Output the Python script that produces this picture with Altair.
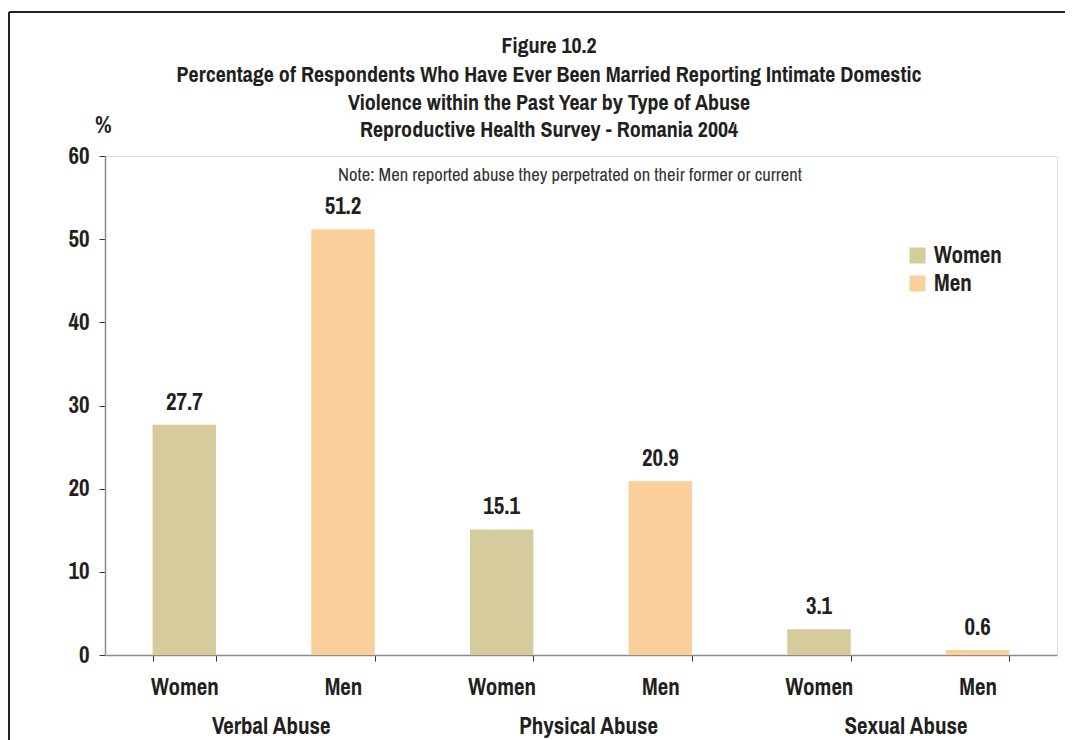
import altair as alt
import pandas as pd

abuse_types = ["Verbal Abuse", "Physical Abuse", "Sexual Abuse"]
sexes = ["Women", "Men"]
women_values = [27.7, 15.1, 3.1]
men_values = [51.2, 20.9, 0.6]
y_ticks = [0, 10, 20, 30, 40, 50, 60]
colors = ["#D6CB9C", "#F9CF9B"]

title_lines = [
    "Figure 10.2",
    "Percentage of Respondents Who Have Ever Been Married Reporting Intimate Domestic",
    "Violence within the Past Year by Type of Abuse",
    "Reproductive Health Survey - Romania 2004",
]
note_text = "Note: Men reported abuse they perpetrated on their former or current"

rows = []
for i, t in enumerate(abuse_types):
    for s, v in zip(sexes, [women_values[i], men_values[i]]):
        rows.append({"cat": f"{t}|{s}", "type": t, "sex": s, "value": v})
df = pd.DataFrame(rows)
cat_order = list(df["cat"])
one = pd.DataFrame({"k": [0]})

FONT = "Archivo Narrow, Roboto Condensed, Barlow Condensed, sans-serif"
INK = "#231f20"
FS = 23
W, H = 952, 499

x_enc = alt.X("cat:N", sort=cat_order, scale=alt.Scale(paddingInner=0.6, paddingOuter=0.3),
              axis=alt.Axis(title=None, labelExpr="split(datum.label, '|')[1]",
                            labelFont=FONT, labelFontSize=FS, labelFontWeight="bold",
                            labelColor=INK, labelPadding=15, labelAngle=0,
                            tickBand="extent", tickSize=6, tickColor="#333333",
                            domainColor="#8c8c8c", domainWidth=1.5, grid=False))

bars = alt.Chart(df).mark_bar().encode(
    x=x_enc,
    y=alt.Y("value:Q", scale=alt.Scale(domain=[0, 60], nice=False),
            axis=alt.Axis(values=y_ticks, title="%", titleAngle=0, titleX=-2, titleY=-31,
                          titleBaseline="middle",
                          titleFont=FONT, titleFontSize=FS, titleFontWeight="bold",
                          titleColor=INK, titleAlign="center",
                          labelFont=FONT, labelFontSize=FS, labelFontWeight="bold",
                          labelColor=INK, labelPadding=10, tickSize=6,
                          tickColor="#333333", domainColor="#8c8c8c", domainWidth=1.5,
                          grid=False)),
    color=alt.Color("sex:N", scale=alt.Scale(domain=sexes, range=colors),
                    legend=alt.Legend(title=None, orient="none", legendX=801, legendY=88,
                                      symbolType="square", symbolSize=256,
                                      symbolStrokeWidth=0, labelFont=FONT,
                                      labelFontSize=FS, labelFontWeight="bold",
                                      labelColor=INK, rowPadding=4, labelOffset=5)),
)

labels = alt.Chart(df).mark_text(font=FONT, fontSize=FS, fontWeight="bold",
                                 color=INK, baseline="bottom", dy=-10).encode(
    x=alt.X("cat:N", sort=cat_order),
    y="value:Q",
    text=alt.Text("value:Q", format=".1f"),
)

group_df = df[df["sex"] == "Men"]
groups = alt.Chart(group_df).mark_text(font=FONT, fontSize=FS, fontWeight="bold",
                                       color=INK, baseline="middle", dx=-40).encode(
    x=alt.X("cat:N", sort=cat_order, bandPosition=0),
    y=alt.value(571),
    text="type:N",
)

layers = [bars, labels, groups]

title_y = [46, 75, 103, 130]
for line, yy in zip(title_lines, title_y):
    layers.append(alt.Chart(one).mark_text(text=line, font=FONT, fontSize=22, fontWeight="bold",
                                           color=INK, baseline="middle").encode(
        x=alt.value(444), y=alt.value(yy - 156)))

layers.append(alt.Chart(one).mark_text(text=note_text, font=FONT, fontSize=18.5,
                                       color="#333333", baseline="middle").encode(
    x=alt.value(465), y=alt.value(19)))

border_left = alt.Chart(one).mark_rule(color="#222222", strokeWidth=2).encode(
    x=alt.value(-96), y=alt.value(-144), y2=alt.value(620))
border_top = alt.Chart(one).mark_rule(color="#222222", strokeWidth=2).encode(
    x=alt.value(-96), x2=alt.value(970), y=alt.value(-144))
layers += [border_left, border_top]

chart = alt.layer(*layers).properties(
    width=W, height=H,
    autosize=alt.AutoSizeParams(type="none"),
    padding={"left": 97, "top": 148, "right": 8, "bottom": 95},
).configure_view(stroke=None).configure(background="white")

chart.save("out.html", embed_options={"renderer": "svg", "actions": False})
